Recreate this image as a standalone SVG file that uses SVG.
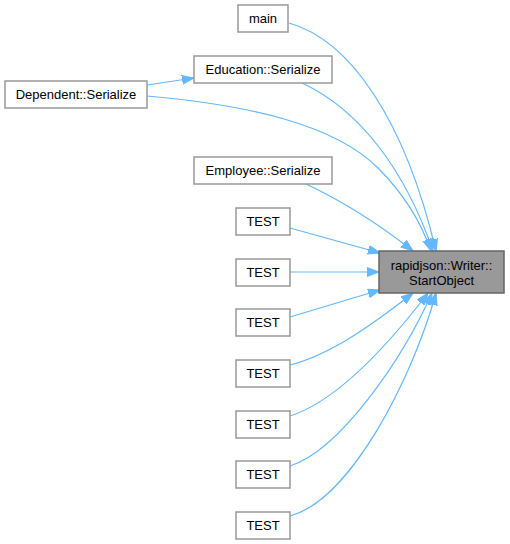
<svg xmlns="http://www.w3.org/2000/svg" width="510" height="544" viewBox="0 0 510 544">
<style>
.box{fill:#ffffff;stroke:#999999;stroke-width:1.5}
.hl{fill:#999999;stroke:#666666;stroke-width:1.5}
text{font-family:"Liberation Sans",Arial,sans-serif;font-size:13px;fill:#000000;text-anchor:middle}
.e{fill:none;stroke:#63b8ff;stroke-width:1.2}
</style>
<defs>
<marker id="ah" markerUnits="userSpaceOnUse" markerWidth="12" markerHeight="10" viewBox="0 0 11 8" refX="11" refY="4" orient="auto">
<path d="M0,0 L11,4 L0,8 z" fill="#63b8ff" stroke="#63b8ff"/>
</marker>
</defs>
<rect width="510" height="544" fill="#ffffff"/>
<g id="edges">
<path class="e" marker-end="url(#ah)" d="M289,23 C350,40 405,120 436,251"/>
<path class="e" marker-end="url(#ah)" d="M302,83 C360,110 405,170 433,251"/>
<path class="e" marker-end="url(#ah)" d="M147,96 C250,105 335,125 378,168 C405,195 422,225 431,251"/>
<path class="e" marker-end="url(#ah)" d="M147,85 L194,78"/>
<path class="e" marker-end="url(#ah)" d="M306,184 C340,200 380,225 413,251"/>
<path class="e" marker-end="url(#ah)" d="M290,228 L380,253"/>
<path class="e" marker-end="url(#ah)" d="M290,272 L379,272"/>
<path class="e" marker-end="url(#ah)" d="M290,317 L380,290"/>
<path class="e" marker-end="url(#ah)" d="M290,365 C330,355 372,325 413,293"/>
<path class="e" marker-end="url(#ah)" d="M290,416 C340,400 392,340 428,293"/>
<path class="e" marker-end="url(#ah)" d="M290,466 C340,450 402,360 432,293"/>
<path class="e" marker-end="url(#ah)" d="M290,516 C350,500 412,380 436,293"/>
</g>
<g id="n_startobject"><rect class="hl" x="379" y="251" width="125" height="42"/><text x="441.5" y="269.5">rapidjson::Writer::</text><text x="441.5" y="284.5">StartObject</text></g>
<g id="n_main"><rect class="box" x="238" y="5" width="50" height="27"/><text x="263" y="23">main</text></g>
<g id="n_education"><rect class="box" x="194" y="56" width="138" height="27"/><text x="263" y="74">Education::Serialize</text></g>
<g id="n_dependent"><rect class="box" x="5" y="81" width="142" height="27"/><text x="76" y="99">Dependent::Serialize</text></g>
<g id="n_employee"><rect class="box" x="194" y="157" width="138" height="27"/><text x="263" y="175">Employee::Serialize</text></g>
<g id="n_test1"><rect class="box" x="236" y="208" width="54" height="27"/><text x="263" y="226">TEST</text></g>
<g id="n_test2"><rect class="box" x="236" y="259" width="54" height="27"/><text x="263" y="277">TEST</text></g>
<g id="n_test3"><rect class="box" x="236" y="309" width="54" height="27"/><text x="263" y="327">TEST</text></g>
<g id="n_test4"><rect class="box" x="236" y="360" width="54" height="27"/><text x="263" y="378">TEST</text></g>
<g id="n_test5"><rect class="box" x="236" y="411" width="54" height="27"/><text x="263" y="429">TEST</text></g>
<g id="n_test6"><rect class="box" x="236" y="461" width="54" height="27"/><text x="263" y="479">TEST</text></g>
<g id="n_test7"><rect class="box" x="236" y="512" width="54" height="27"/><text x="263" y="530">TEST</text></g>
</svg>
